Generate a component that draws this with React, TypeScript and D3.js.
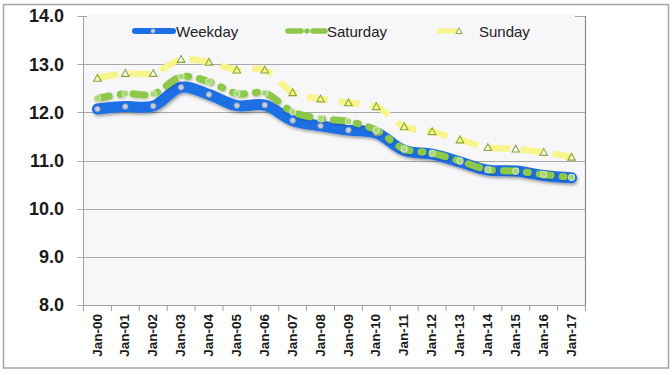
import React from "react";
import * as d3 from "d3";

const categories = ["Jan-00","Jan-01","Jan-02","Jan-03","Jan-04","Jan-05","Jan-06","Jan-07","Jan-08","Jan-09","Jan-10","Jan-11","Jan-12","Jan-13","Jan-14","Jan-15","Jan-16","Jan-17"];
const weekday = [12.07, 12.12, 12.13, 12.52, 12.37, 12.14, 12.15, 11.83, 11.72, 11.63, 11.57, 11.21, 11.13, 10.97, 10.80, 10.78, 10.69, 10.64];
const saturday = [12.29, 12.39, 12.38, 12.74, 12.64, 12.39, 12.40, 12.01, 11.87, 11.81, 11.63, 11.24, 11.15, 10.99, 10.81, 10.78, 10.71, 10.65];
const sunday = [12.71, 12.81, 12.81, 13.10, 13.04, 12.88, 12.88, 12.41, 12.28, 12.20, 12.12, 11.70, 11.60, 11.43, 11.27, 11.24, 11.17, 11.07];
const yTicks = [8, 9, 10, 11, 12, 13, 14];
const seriesNames = ["Weekday", "Saturday", "Sunday"];

const W = 672, H = 375;
const L = 83.5, R = 585.5, T = 16, B = 305;

const BLUE = "#1c6fe4";
const GREEN = "#8dc84a";
const YELLOW = "#f7f58c";
const TRI = "#8aa83a";

function tri(cx: number, cy: number, s = 4) {
  return `M${cx},${cy - s}L${cx + s},${cy + s * 0.8}L${cx - s},${cy + s * 0.8}Z`;
}

export default function App() {
  const x = d3.scaleBand<string>().domain(categories).range([L, R]);
  const y = d3.scaleLinear().domain([8, 14]).range([B, T]);
  const cx = (c: string) => (x(c) as number) + x.bandwidth() / 2;
  const line = d3.line<number>()
    .x((_, i) => cx(categories[i]))
    .y((v) => y(v))
    .curve(d3.curveCatmullRom.alpha(0.5));

  const boundaries = categories.map((c) => x(c) as number).concat([R]);

  return (
    <svg width={W} height={H} style={{ position: "absolute", left: 0, top: 0, background: "#fff" }}>
      <defs>
        <filter id="sh" x="-10%" y="-50%" width="120%" height="200%">
          <feDropShadow dx="1" dy="2" stdDeviation="1.5" floodColor="#000" floodOpacity="0.35" />
        </filter>
        <filter id="sh2" x="-10%" y="-50%" width="120%" height="200%">
          <feDropShadow dx="0.5" dy="1.2" stdDeviation="1" floodColor="#000" floodOpacity="0.25" />
        </filter>
      </defs>
      <rect x={3.5} y={4.5} width={665} height={363.5} fill="#fff" stroke="#a6a6a6" strokeWidth={1.5} />
      <rect x={L} y={T} width={R - L} height={B - T} fill="#f7f6f9" />
      {yTicks.map((t) => (
        <g key={t}>
          <line x1={L - 6} x2={R} y1={Math.round(y(t)) + 0.5} y2={Math.round(y(t)) + 0.5} stroke="#a8a8a8" strokeWidth={1} />
          <text x={64} y={y(t)} dy="0.36em" textAnchor="end" fontFamily="Liberation Sans, Arial, sans-serif" fontWeight="bold" fontSize={18} fill="#1a1a1a">
            {t.toFixed(1)}
          </text>
        </g>
      ))}
      <line x1={L} x2={L} y1={T} y2={B} stroke="#a0a0a0" />
      <line x1={R} x2={R} y1={T} y2={B} stroke="#8c8c8c" strokeWidth={1.2} />
      <line x1={L} x2={R} y1={B + 0.5} y2={B + 0.5} stroke="#a0a0a0" />
      {boundaries.map((b, i) => (
        <line key={i} x1={b} x2={b} y1={B} y2={B + 6} stroke="#a0a0a0" />
      ))}
      {categories.map((c) => (
        <text key={c} transform={`translate(${cx(c)},${314}) rotate(-90)`} dy="0.3em" textAnchor="end"
          fontFamily="Liberation Sans, Arial, sans-serif" fontWeight="bold" fontSize={13.5} fill="#1a1a1a">
          {c}
        </text>
      ))}

      {/* legend box covers top gridline */}
      <rect x={87} y={T - 2} width={488} height={32} fill="#f7f6f9" />

      {/* Weekday */}
      <path d={line(weekday) || ""} fill="none" stroke={BLUE} strokeWidth={11} strokeLinecap="round" strokeLinejoin="round" filter="url(#sh)" />
      {weekday.map((v, i) => (
        <circle key={i} cx={cx(categories[i])} cy={y(v)} r={2.8} fill="#c5cde0" stroke="#8a97b5" strokeWidth={0.8} />
      ))}

      {/* Saturday */}
      <path d={line(saturday) || ""} fill="none" stroke={GREEN} strokeWidth={7} strokeLinecap="round" strokeLinejoin="round"
        strokeDasharray="12 11 2 11" filter="url(#sh2)" />
      {saturday.map((v, i) => (
        <g key={i}>
          <rect x={cx(categories[i]) - 3} y={y(v) - 3} width={6} height={6} rx={2} fill="#a8d878" stroke="#e6f4d6" strokeWidth={0.8} />
        </g>
      ))}

      {/* Sunday */}
      <path d={line(sunday) || ""} fill="none" stroke={YELLOW} strokeWidth={6.5} strokeDasharray="21 11" strokeLinejoin="round" />
      {sunday.map((v, i) => (
        <path key={i} d={tri(cx(categories[i]), y(v), 3.8)} fill="none" stroke={TRI} strokeWidth={1.1} />
      ))}

      {/* Legend */}
      <g fontFamily="Liberation Sans, Arial, sans-serif" fontSize={15} fill="#222">
        <line x1={135} x2={173} y1={31} y2={31} stroke={BLUE} strokeWidth={6} strokeLinecap="round" />
        <circle cx={153} cy={31} r={2.2} fill="#c5cde0" stroke="#8a97b5" strokeWidth={0.7} />
        <text x={176} y={36.5}>{seriesNames[0]}</text>

        <line x1={288} x2={325} y1={31} y2={31} stroke={GREEN} strokeWidth={5.5} strokeLinecap="round" strokeDasharray="13 6 0.01 6" />
        <text x={327} y={36.5}>{seriesNames[1]}</text>

        <line x1={437} x2={457} y1={31} y2={31} stroke={YELLOW} strokeWidth={5} />
        <path d={tri(459, 31, 3.2)} fill="none" stroke={TRI} strokeWidth={1} />
        <text x={479} y={36.5}>{seriesNames[2]}</text>
      </g>
    </svg>
  );
}
